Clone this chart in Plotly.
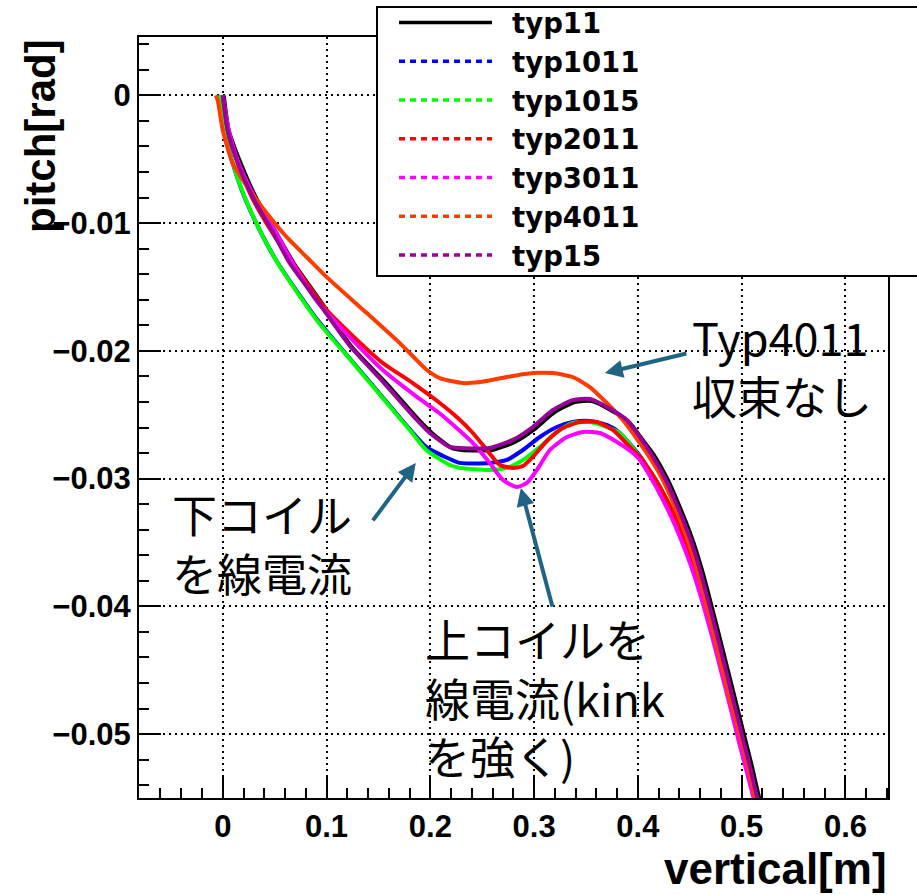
import plotly.graph_objects as go

# ---------------- data ----------------
names = ["typ11", "typ1011", "typ1015", "typ2011", "typ3011", "typ4011", "typ15"]
colors = ["#000000", "#0000ff", "#00ff00", "#ff0000", "#ff00ff", "#ff3c00", "#990099"]

x_typ11 = [0.001, 0.0058, 0.0173, 0.0318, 0.0501, 0.0684, 0.0935, 0.1243, 0.1571, 0.1889, 0.2014, 0.2207,
           0.2304, 0.2593, 0.2814, 0.3007, 0.32, 0.3393, 0.3557, 0.372, 0.3913, 0.4039, 0.4154, 0.4279,
           0.4395, 0.452, 0.4617, 0.4694, 0.4771, 0.4858, 0.4945, 0.5022, 0.5099, 0.5166, 0.5176]
y_typ11 = [0.0, -0.00274, -0.00532, -0.00797, -0.01056, -0.01314, -0.01603, -0.0197, -0.0225, -0.02541,
           -0.02643, -0.0276, -0.02776, -0.02776, -0.02713, -0.02611, -0.02478, -0.024, -0.02393, -0.02455,
           -0.02557, -0.0269, -0.02815, -0.02995, -0.03206, -0.03464, -0.03714, -0.03948, -0.04191, -0.04472,
           -0.04754, -0.05004, -0.05254, -0.05489, -0.05512]

x_typ1011 = [-0.0019, 0.001, 0.0087, 0.0202, 0.0347, 0.052, 0.0896, 0.1214, 0.1533, 0.1793, 0.1966, 0.2188,
             0.2284, 0.2573, 0.2737, 0.2892, 0.3055, 0.3219, 0.3373, 0.3537, 0.3701, 0.3827, 0.4019, 0.4116,
             0.4212, 0.4308, 0.4405, 0.4501, 0.4578, 0.4646, 0.4723, 0.481, 0.4896, 0.4983, 0.506, 0.5128,
             0.5137]
y_typ1011 = [0.0, -0.00258, -0.00508, -0.00782, -0.0104, -0.01298, -0.0174, -0.0205, -0.02355, -0.02605,
             -0.02755, -0.02846, -0.02877, -0.02877, -0.02854, -0.02776, -0.02674, -0.02596, -0.02557, -0.02549,
             -0.0258, -0.02643, -0.02823, -0.0294, -0.03065, -0.03213, -0.03385, -0.03597, -0.03792, -0.03988,
             -0.04222, -0.04496, -0.04769, -0.05043, -0.05285, -0.05496, -0.05528]

x_typ1015 = [-0.0029, 0.001, 0.0096, 0.0212, 0.0357, 0.053, 0.0906, 0.1224, 0.1542, 0.1802, 0.1966, 0.2188,
             0.2284, 0.2573, 0.2737, 0.2892, 0.3055, 0.3219, 0.3373, 0.3537, 0.3701, 0.3827, 0.4019, 0.4116,
             0.4212, 0.4308, 0.4405, 0.4501, 0.4578, 0.4646, 0.4723, 0.481, 0.4896, 0.4983, 0.506, 0.5128,
             0.5137]
y_typ1015 = [0.0, -0.00274, -0.00532, -0.00797, -0.01056, -0.01314, -0.0176, -0.02064, -0.0237, -0.0262,
             -0.0278, -0.02893, -0.02916, -0.02932, -0.02916, -0.02854, -0.02752, -0.02635, -0.02564, -0.02557,
             -0.02596, -0.02643, -0.0283, -0.0294, -0.03065, -0.03213, -0.03385, -0.03597, -0.03792, -0.03988,
             -0.04222, -0.04496, -0.04769, -0.05043, -0.05285, -0.05496, -0.05528]

x_typ2011 = [0.0, 0.0048, 0.0145, 0.028, 0.0463, 0.0675, 0.1002, 0.1224, 0.1542, 0.1831, 0.2092, 0.2255,
             0.241, 0.2545, 0.267, 0.2795, 0.2892, 0.2988, 0.3123, 0.3277, 0.3441, 0.3605, 0.3759, 0.3923,
             0.4019, 0.4116, 0.4212, 0.4308, 0.4405, 0.4501, 0.4578, 0.4646, 0.4723, 0.481, 0.4896, 0.4983,
             0.506, 0.5128, 0.5137]
y_typ2011 = [0.0, -0.00274, -0.00532, -0.00797, -0.01056, -0.01314, -0.01681, -0.01861, -0.02095, -0.02252,
             -0.02408, -0.02518, -0.02643, -0.02776, -0.02893, -0.02916, -0.02901, -0.0283, -0.02705, -0.02604,
             -0.02557, -0.02557, -0.02619, -0.02752, -0.0283, -0.0294, -0.03065, -0.03213, -0.03385, -0.03597,
             -0.03792, -0.03988, -0.04222, -0.04496, -0.04769, -0.05043, -0.05285, -0.05496, -0.05528]

x_typ3011 = [0.0, 0.0058, 0.0154, 0.0308, 0.0501, 0.0675, 0.0906, 0.1224, 0.1542, 0.187, 0.2092, 0.241,
             0.2573, 0.2699, 0.2834, 0.293, 0.3027, 0.3152, 0.3316, 0.347, 0.3634, 0.3798, 0.3952, 0.4019,
             0.4116, 0.4212, 0.4308, 0.4405, 0.4501, 0.4578, 0.4646, 0.4723, 0.481, 0.4896, 0.4973, 0.5051,
             0.5118]
y_typ3011 = [0.0, -0.00274, -0.00532, -0.00797, -0.01056, -0.01314, -0.0161, -0.01892, -0.0215, -0.0236,
             -0.0249, -0.02721, -0.02877, -0.0301, -0.03065, -0.03034, -0.02932, -0.02776, -0.02674, -0.02635,
             -0.02643, -0.02713, -0.02799, -0.02854, -0.02979, -0.0312, -0.03276, -0.03456, -0.03659, -0.03847,
             -0.04034, -0.04261, -0.04535, -0.04808, -0.05059, -0.05301, -0.05512]

x_typ4011 = [-0.0067, -0.0048, 0.0, 0.0096, 0.026, 0.0424, 0.0617, 0.081, 0.1002, 0.1388, 0.1706, 0.1966,
             0.2092, 0.2313, 0.2477, 0.2737, 0.2988, 0.3181, 0.3373, 0.3537, 0.3701, 0.3855, 0.4019, 0.4116,
             0.4231, 0.4357, 0.4472, 0.4569, 0.4646, 0.4723, 0.481, 0.4896, 0.4983, 0.506, 0.5128, 0.5137]
y_typ4011 = [0.0, -0.00039, -0.00274, -0.00532, -0.00743, -0.00923, -0.0111, -0.01267, -0.01423, -0.01704,
             -0.01939, -0.0215, -0.02213, -0.02252, -0.02244, -0.02205, -0.02174, -0.02174, -0.02205, -0.02283,
             -0.02408, -0.02541, -0.02721, -0.02838, -0.02995, -0.03221, -0.03464, -0.03714, -0.03948, -0.04191,
             -0.04472, -0.04754, -0.05004, -0.05254, -0.05489, -0.05512]

x_typ15 = [0.0, 0.0048, 0.0145, 0.0289, 0.0472, 0.0646, 0.0906, 0.1224, 0.1542, 0.187, 0.1995, 0.2188,
           0.2284, 0.2573, 0.2795, 0.2988, 0.3181, 0.3373, 0.3537, 0.3701, 0.3894, 0.4019, 0.4135, 0.426,
           0.4376, 0.4501, 0.4598, 0.4675, 0.4752, 0.4839, 0.4925, 0.5002, 0.508, 0.5147, 0.5157]
y_typ15 = [0.0, -0.00274, -0.00532, -0.00797, -0.01056, -0.01314, -0.01603, -0.0196, -0.0224, -0.02541,
           -0.02643, -0.02752, -0.0276, -0.0276, -0.02697, -0.02596, -0.02463, -0.02385, -0.02377, -0.02439,
           -0.02541, -0.02674, -0.02815, -0.02995, -0.03206, -0.03464, -0.03714, -0.03948, -0.04191, -0.04472,
           -0.04754, -0.05004, -0.05254, -0.05489, -0.05512]

xs = [x_typ11, x_typ1011, x_typ1015, x_typ2011, x_typ3011, x_typ4011, x_typ15]
ys = [y_typ11, y_typ1011, y_typ1015, y_typ2011, y_typ3011, y_typ4011, y_typ15]

x_tickvals = [0, 0.1, 0.2, 0.3, 0.4, 0.5, 0.6]
x_ticktext = ["0", "0.1", "0.2", "0.3", "0.4", "0.5", "0.6"]
y_tickvals = [0, -0.01, -0.02, -0.03, -0.04, -0.05]
y_ticktext = ["0", "\u22120.01", "\u22120.02", "\u22120.03", "\u22120.04", "\u22120.05"]

# ---------------- figure ----------------
W, H = 917, 895
ML, MR, MT, MB = 139, 29, 37, 97
PW, PH = W - ML - MR, H - MT - MB


def px(xp):
    return (xp - ML) / PW


def py(yp):
    return 1 - (yp - MT) / PH


fig = go.Figure()

for name, col, x, y in zip(names, colors, xs, ys):
    fig.add_trace(go.Scatter(x=x, y=y, mode="lines", name=name, showlegend=False, legendgroup=name,
                             line=dict(color=col, width=4, shape="spline", smoothing=0.6),
                             hoverinfo="skip"))

lead = "\u00a0\u2009"
for i, (name, col) in enumerate(zip(names, colors)):
    fig.add_trace(go.Scatter(x=[None], y=[None], mode="lines", name=lead + name, showlegend=True,
                             legendgroup=name,
                             line=dict(color=col, width=3.5, dash="solid" if i == 0 else "6px,5px")))

tickfont = dict(family="Liberation Sans", size=31, color="black", weight="bold")

fig.update_xaxes(range=[-0.0807, 0.641], tickvals=x_tickvals, ticktext=x_ticktext,
                 ticks="inside", ticklen=22, tickwidth=1.5, tickcolor="black",
                 showline=True, linecolor="black", linewidth=2, mirror=True,
                 showgrid=True, gridcolor="black", gridwidth=1.5, griddash="2px,4px",
                 zeroline=False, tickfont=tickfont,
                 minor=dict(ticks="inside", ticklen=10, tickwidth=1.5, tickcolor="black",
                            dtick=0.02, tick0=0, showgrid=False))
fig.update_yaxes(range=[-0.0550, 0.00457], tickvals=y_tickvals, ticktext=y_ticktext,
                 ticks="inside", ticklen=22, tickwidth=1.5, tickcolor="black",
                 showline=True, linecolor="black", linewidth=2, mirror=True,
                 showgrid=True, gridcolor="black", gridwidth=1.5, griddash="2px,4px",
                 zeroline=False, tickfont=tickfont,
                 minor=dict(ticks="inside", ticklen=10, tickwidth=1.5, tickcolor="black",
                            dtick=0.002, tick0=0, showgrid=False))

annotations = [
    dict(text="pitch[rad]", xref="paper", yref="paper", x=px(40), y=py(136), textangle=-90,
         xanchor="center", yanchor="middle", showarrow=False,
         font=dict(family="Liberation Sans", size=42, color="black", weight="bold")),
    dict(text="vertical[m]", xref="paper", yref="paper", x=px(889), y=py(868),
         xanchor="right", yanchor="middle", showarrow=False,
         font=dict(family="Liberation Sans", size=44, color="black", weight="bold")),
]

jfont = dict(family="Noto Sans CJK JP", size=45, color="black")
text_blocks = [
    ("Typ4011<br>収束なし", 690, 366),
    ("下コイル<br>を線電流", 170, 543),
    ("上コイルを<br>線電流(kink<br>を強く)", 423, 697),
]
for t, xx, yy in text_blocks:
    annotations.append(dict(text=t, xref="paper", yref="paper", x=px(xx), y=py(yy), align="left",
                            xanchor="left", yanchor="middle", showarrow=False, font=jfont))

acol = "#1f6482"
arrows = [(0.3682, -0.02174, 83, -20), (0.186, -0.02877, -44, 59), (0.2872, -0.03073, 32, 120)]
for ax_, ay_, dx, dy in arrows:
    annotations.append(dict(text="", x=ax_, y=ay_, xref="x", yref="y", ax=dx, ay=dy,
                            showarrow=True, arrowhead=2, arrowsize=0.9, arrowwidth=4,
                            arrowcolor=acol))

# legend frame (white box behind the native legend)
shapes = [dict(type="rect", xref="paper", yref="paper", x0=px(377), x1=px(935), y0=py(276), y1=py(7),
               line=dict(color="black", width=2), fillcolor="white", layer="above")]

fig.update_layout(
    width=W, height=H,
    margin=dict(l=ML, r=MR, t=MT, b=MB, autoexpand=False),
    paper_bgcolor="white", plot_bgcolor="white",
    showlegend=True,
    legend=dict(x=px(394), y=py(-2), xanchor="left", yanchor="top",
                bgcolor="rgba(0,0,0,0)", borderwidth=0,
                font=dict(family="DejaVu Sans", size=27.5, color="black", weight="bold"),
                itemwidth=93, tracegroupgap=0),
    annotations=annotations,
    shapes=shapes,
)

fig.write_html("out.html")
